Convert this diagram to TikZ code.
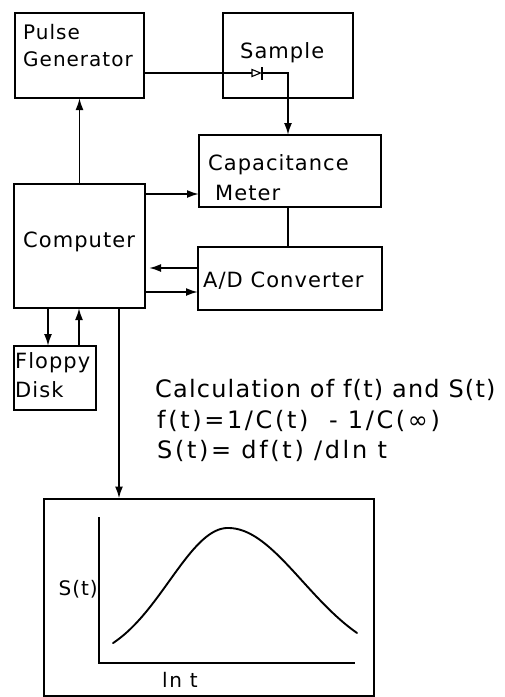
\documentclass[tikz,border=0pt]{standalone}
\usepackage{fontspec}
\setmainfont{DejaVu Sans}
\newfontfamily\lab{DejaVu Sans}[LetterSpace=5]
\newfontfamily\labw{DejaVu Sans}[LetterSpace=8]
\newfontfamily\labf{DejaVu Sans}[LetterSpace=11]
\usetikzlibrary{arrows.meta}
\tikzset{
  box/.style={draw, line width=2pt, inner sep=0pt, outer sep=0pt},
  conn/.style={line width=1.9pt},
  arr/.style={conn, -{Latex[length=12pt,width=8pt]}},
  txt/.style={anchor=base west, inner sep=0pt, font={\lab\fontsize{21}{25}\selectfont}},
  smalltxt/.style={txt, font={\lab\fontsize{20}{24}\selectfont}},
  calctxt/.style={anchor=base west, inner sep=0pt, font={\lab\fontsize{24}{30}\selectfont}},
  formtxt/.style={anchor=base west, inner sep=0pt, font={\labf\fontsize{24}{30}\selectfont}},
  curve/.style={line width=1.9pt, line cap=round, line join=round},
}
\begin{document}
\begin{tikzpicture}[x=1pt,y=-1pt]
\useasboundingbox (0,0) rectangle (505,697);

% boxes
\node[box, minimum width=129pt, minimum height=85pt] (pg) at (79.5,55.5) {};
\node[box, minimum width=130pt, minimum height=85pt] (sample) at (288,55.5) {};
\node[box, minimum width=182pt, minimum height=72pt] (cap) at (290,171) {};
\node[box, minimum width=131pt, minimum height=124pt] (comp) at (79.5,246) {};
\node[box, minimum width=184pt, minimum height=63pt] (ad) at (290,278.5) {};
\node[box, minimum width=82pt, minimum height=64pt] (floppy) at (55,378) {};
\node[box, minimum width=330pt, minimum height=197pt] (plot) at (209,597) {};

% labels
\node[smalltxt] (tpulse) at (23,39) {Pulse};
\node[smalltxt] (tgen) at (23,66) {Generator};
\node[txt] (tsample) at (240,58) {Sample};
\node[txt] (tcap) at (208,170) {Capacitance};
\node[txt] (tmeter) at (215,200) {Meter};
\node[txt] (tcomp) at (23,247) {Computer};
\node[txt] (tad) at (203,287) {A/D Converter};
\node[txt] (tfloppy) at (15,368) {Floppy};
\node[txt] (tdisk) at (15,397) {Disk};
\node[calctxt] (tcalc) at (155,397) {Calculation of f(t) and S(t)};
\node[formtxt] (tf) at (157,428) {f(t)=1/C(t) \ - 1/C(∞)};
\node[formtxt] (ts) at (157,458) {S(t)= df(t) /dln t};
\node[smalltxt, anchor=base east] (tsy) at (98,595) {S(t)};
\node[smalltxt, font={\labw\fontsize{20}{24}\selectfont}] (tlnt) at (162,687) {ln t};

% helper coordinates
\coordinate (y73) at (0,73);
\coordinate (y194) at (0,194);
\coordinate (y268) at (0,268);
\coordinate (y292) at (0,292);
\coordinate (x48) at (48,0);
\coordinate (x79) at (79,0);
\coordinate (x119) at (119,0);
\coordinate (x288) at (288,0);
\coordinate (dio) at (252,73);
\coordinate (bar) at (262,73);
\coordinate (turn) at (288,73);

% pulse generator -> sample (diode) -> capacitance meter
\draw[conn] (pg.east |- y73) -- (dio);
\draw[line width=1.1pt, fill=white] (252,69.5) -- (260.5,73) -- (252,76.5) -- cycle;
\draw[conn] (262,67) -- (262,80);
\draw[arr] (bar) -- (turn) -- (cap.north -| x288);

% computer connections
\draw[arr] (comp.north) -- (pg.south);
\draw[arr] (comp.east |- y194) -- (cap.west |- y194);
\draw[conn] (cap.south -| x288) -- (ad.north -| x288);
\draw[arr, shorten >=4pt] (ad.west |- y268) -- (comp.east |- y268);
\draw[arr] (comp.east |- y292) -- (ad.west |- y292);
\draw[arr] (comp.south -| x48) -- (floppy.north -| x48);
\draw[arr] (floppy.north -| x79) -- (comp.south -| x79);
\draw[arr] (comp.south -| x119) -- (plot.north -| x119);

% plot
\coordinate (orig) at (99,663);
\draw[conn] (99,517) -- (orig) -- (355,663);
\draw[curve] plot[domain=113:228, samples=80] (\x,{663-135*exp(-0.5*((\x-228)/58.8)^2)});
\draw[curve] plot[domain=228:357, samples=80] (\x,{663-135*exp(-0.5*((\x-228)/74.4)^2)});
\end{tikzpicture}
\end{document}
